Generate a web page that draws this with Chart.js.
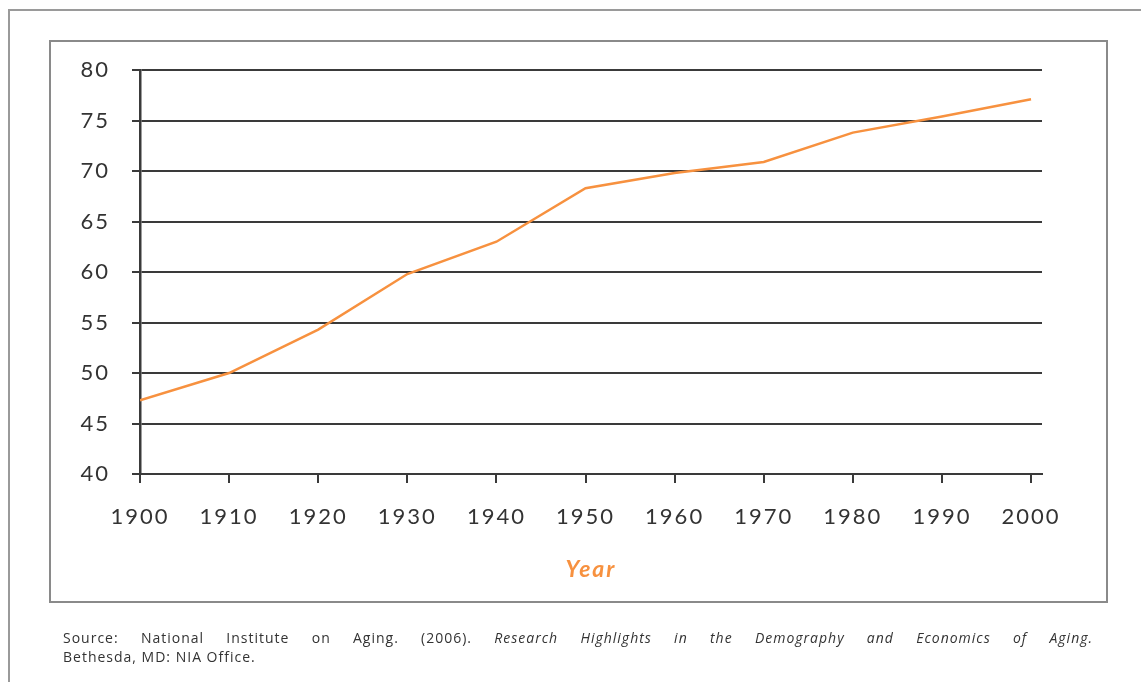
<!DOCTYPE html>
<html>
<head>
<meta charset="utf-8">
<script src="https://cdn.jsdelivr.net/npm/chart.js@4"></script>
<style>
  html, body { margin: 0; padding: 0; background: #fff; overflow: hidden; }
  #page { position: relative; width: 1141px; height: 682px; }
  .outer { position: absolute; left: 8px; top: 9px; width: 1200px; height: 800px; border: 2px solid #9a9a9a; }
  .inner { position: absolute; left: 49px; top: 40px; width: 1059px; height: 563px; border: 2px solid #8a8a8a; box-sizing: border-box; }
  #chart { position: absolute; left: 0; top: 0; }
  .source { position: absolute; left: 63px; top: 628px; width: 1030px; font-family: "Open Sans", sans-serif; font-size: 14px; letter-spacing: 1px; color: #333; line-height: 19px; }
  .source .l1 { text-align: justify; text-align-last: justify; }
</style>
</head>
<body>
<div id="page">
  <div class="outer"></div>
  <div class="inner"></div>
  <canvas id="chart" width="1141" height="682"></canvas>
  <div class="source">
    <div class="l1">Source: National Institute on Aging. (2006). <i>Research Highlights in the Demography and Economics of Aging.</i></div>
    <div>Bethesda, MD: NIA Office.</div>
  </div>
</div>
<script>
const years = [1900, 1910, 1920, 1930, 1940, 1950, 1960, 1970, 1980, 1990, 2000];
const lifeExpectancy = [47.3, 50.0, 54.3, 59.8, 63.0, 68.3, 69.8, 70.9, 73.8, 75.4, 77.1];
const yTicks = [40, 45, 50, 55, 60, 65, 70, 75, 80];
const xTitle = 'Year';

const orange = '#f7913f';
const axisGray = '#3a3a3a';

// wider glyph spacing, closer to the original typeface
const spacing = {
  id: 'spacing',
  beforeDraw(chart) { chart.ctx.letterSpacing = '2px'; },
};

const ctx = document.getElementById('chart').getContext('2d');
const chart = new Chart(ctx, {
  type: 'line',
  data: {
    datasets: [{
      label: 'Life expectancy',
      data: years.map((y, i) => ({ x: y, y: lifeExpectancy[i] })),
      borderColor: orange,
      borderWidth: 2.5,
      pointRadius: 0,
      tension: 0,
      fill: false,
    }],
  },
  plugins: [spacing],
  options: {
    responsive: false,
    animation: false,
    events: [],
    layout: {
      padding: { left: 0, top: 70, right: 99, bottom: 80 },
    },
    plugins: {
      legend: { display: false },
      tooltip: { enabled: false },
    },
    scales: {
      x: {
        type: 'linear',
        min: years[0],
        max: 2001.23,
        afterBuildTicks: (scale) => {
          scale.ticks = years.map(v => ({ value: v }));
        },
        afterFit: (scale) => { scale.height = 128; },
        ticks: {
          includeBounds: false,
          callback: (v) => String(v),
          color: '#333',
          padding: 21,
          maxRotation: 0,
          autoSkip: false,
          font: { family: 'Lato', size: 22 },
        },
        grid: {
          drawOnChartArea: false,
          drawTicks: true,
          tickLength: 9,
          color: axisGray,
          lineWidth: 2,
        },
        border: { display: true, color: axisGray, width: 2 },
        title: {
          display: true,
          text: xTitle,
          color: orange,
          padding: { top: 0, bottom: 19 },
          font: { family: 'Lato', size: 23, style: 'italic', weight: 'bold' },
        },
      },
      y: {
        min: yTicks[0],
        max: yTicks[yTicks.length - 1],
        afterBuildTicks: (scale) => {
          scale.ticks = yTicks.map(v => ({ value: v }));
        },
        afterFit: (scale) => { scale.width = 140; },
        ticks: {
          color: '#333',
          padding: 22,
          font: { family: 'Lato', size: 22 },
        },
        grid: {
          color: axisGray,
          lineWidth: 2,
          tickLength: 8,
          drawTicks: true,
        },
        border: { display: true, color: axisGray, width: 2.5 },
      },
    },
  },
});
</script>
</body>
</html>
